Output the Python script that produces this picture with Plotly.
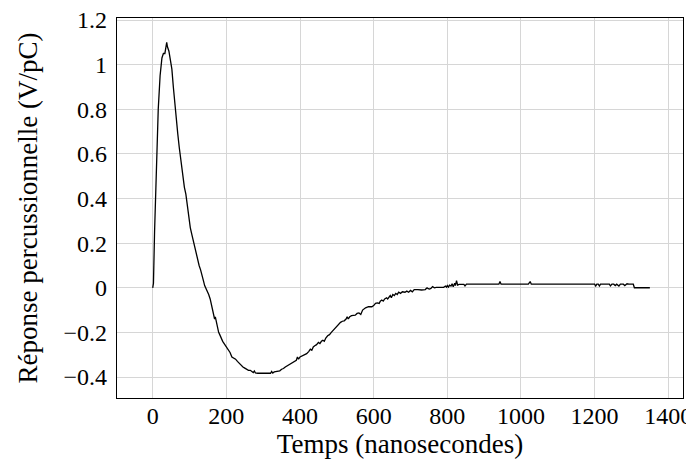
import plotly.graph_objects as go

time_ns = [0, 2, 5, 10, 15, 20, 25, 29, 33, 36, 38, 40, 44, 48, 52, 56, 60, 64, 68, 72, 76, 80, 83, 86, 90, 94, 98,
           102, 106, 110, 114, 118, 122, 126, 130, 134, 138, 141, 144, 148, 152, 156, 160, 163, 166, 168, 170, 173,
           176, 179, 182, 186, 190, 194, 198, 202, 206, 210, 215, 220, 225, 230, 235, 240, 245, 250, 255, 260, 265,
           270, 273, 276, 279, 285, 295, 305, 315, 320, 323, 326, 330, 340, 345, 350, 355, 360, 365, 370, 375, 380,
           385, 390, 393, 396, 400, 405, 410, 418, 424, 428, 432, 436, 440, 445, 450, 454, 458, 462, 466, 470, 475,
           480, 485, 490, 495, 500, 505, 510, 515, 520, 525, 528, 531, 535, 540, 550, 555, 560, 565, 570, 578, 586,
           595, 600, 605, 610, 615, 618, 622, 626, 630, 635, 638, 642, 645, 648, 652, 656, 660, 664, 668, 673, 678,
           685, 690, 695, 700, 705, 710, 720, 730, 740, 745, 748, 752, 756, 760, 765, 770, 780, 790, 795, 798, 800,
           803, 806, 810, 813, 816, 820, 822, 825, 828, 832, 840, 845, 848, 852, 870, 900, 940, 943, 946, 1020, 1025,
           1028, 1200, 1203, 1206, 1210, 1213, 1216, 1240, 1243, 1247, 1252, 1256, 1260, 1266, 1270, 1278, 1282,
           1288, 1293, 1300, 1305, 1308, 1315, 1350]

response = [0.0, 0.02, 0.25, 0.55, 0.8, 0.95, 1.03, 1.05, 1.05, 1.08, 1.10, 1.08, 1.06, 1.02, 0.98, 0.90, 0.82, 0.75,
            0.69, 0.63, 0.58, 0.52, 0.47, 0.45, 0.42, 0.37, 0.31, 0.27, 0.24, 0.21, 0.19, 0.16, 0.13, 0.10, 0.08,
            0.06, 0.03, 0.01, 0.0, -0.01, -0.03, -0.05, -0.08, -0.10, -0.11, -0.14, -0.13, -0.16, -0.18, -0.20,
            -0.21, -0.23, -0.24, -0.25, -0.26, -0.27, -0.28, -0.29, -0.31, -0.315, -0.32, -0.33, -0.34, -0.35,
            -0.355, -0.36, -0.365, -0.37, -0.37, -0.375, -0.38, -0.373, -0.382, -0.383, -0.383, -0.383, -0.383,
            -0.383, -0.375, -0.382, -0.377, -0.375, -0.372, -0.365, -0.362, -0.355, -0.35, -0.347, -0.34, -0.338,
            -0.33, -0.325, -0.31, -0.32, -0.31, -0.305, -0.30, -0.295, -0.285, -0.275, -0.28, -0.265, -0.26, -0.255,
            -0.245, -0.25, -0.24, -0.235, -0.24, -0.225, -0.215, -0.21, -0.2, -0.19, -0.185, -0.175, -0.165, -0.155,
            -0.15, -0.148, -0.14, -0.13, -0.14, -0.13, -0.125, -0.123, -0.115, -0.113, -0.12, -0.10, -0.09, -0.085,
            -0.085, -0.08, -0.07, -0.068, -0.07, -0.06, -0.055, -0.06, -0.05, -0.045, -0.05, -0.04, -0.035, -0.045,
            -0.03, -0.035, -0.025, -0.03, -0.02, -0.025, -0.018, -0.02, -0.015, -0.02, -0.012, -0.018, -0.008,
            -0.008, -0.01, -0.008, 0.0, -0.004, -0.006, -0.002, 0.005, 0.0, 0.002, 0.002, 0.002, 0.008, 0.003, 0.01,
            0.003, 0.012, 0.008, 0.018, 0.005, 0.02, 0.01, 0.032, 0.012, 0.015, 0.015, 0.015, 0.008, 0.016, 0.016,
            0.016, 0.016, 0.028, 0.016, 0.016, 0.028, 0.016, 0.016, 0.008, 0.016, 0.016, 0.008, 0.016, 0.016, 0.008,
            0.016, 0.016, 0.01, 0.016, 0.008, 0.016, 0.016, 0.01, 0.018, 0.016, 0.016, 0.016, 0.0, 0.0, 0.0]

x_ticks = [0, 200, 400, 600, 800, 1000, 1200, 1400]
x_tick_labels = ["0", "200", "400", "600", "800", "1000", "1200", "1400"]
y_ticks = [-0.4, -0.2, 0, 0.2, 0.4, 0.6, 0.8, 1.0, 1.2]
y_tick_labels = ["\u22120.4", "\u22120.2", "0", "0.2", "0.4", "0.6", "0.8", "1", "1.2"]

x_title = "Temps (nanosecondes)"
y_title = "Réponse percussionnelle (V/pC)"

font_family = "Liberation Serif, DejaVu Serif, serif"

fig = go.Figure()
fig.add_trace(go.Scatter(
    x=time_ns, y=response, mode="lines",
    line=dict(color="black", width=1.3),
    showlegend=False,
))

axis_common = dict(
    showgrid=True, gridcolor="#d6d6d6", gridwidth=1,
    showline=True, linecolor="black", linewidth=1.2, mirror=True,
    zeroline=False, ticks="", ticklabeloverflow="allow",
    tickfont=dict(family=font_family, size=24, color="black"),
)

fig.update_xaxes(range=[-97, 1440], tickvals=x_ticks, ticktext=x_tick_labels,
                 ticklabelstandoff=-4,
                 title=dict(text=x_title, font=dict(family=font_family, size=27, color="black"), standoff=6),
                 **axis_common)
fig.update_yaxes(range=[-0.494, 1.209], tickvals=y_ticks, ticktext=y_tick_labels,
                 ticklabelstandoff=4,
                 title=dict(text=y_title, font=dict(family=font_family, size=27, color="black"), standoff=18),
                 **axis_common)

# the page body adds an 8px offset at left and top, so the figure is 8px smaller
fig.update_layout(
    width=686, height=455,
    margin=dict(l=109, r=11, t=10, b=65, autoexpand=False),
    plot_bgcolor="white", paper_bgcolor="white",
)

fig.write_html("out.html")
